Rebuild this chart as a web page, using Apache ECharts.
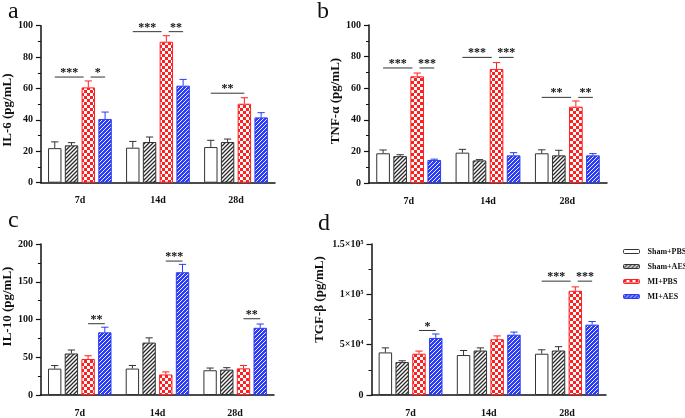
<!DOCTYPE html>
<html>
<head>
<meta charset="utf-8">
<script src="https://cdn.jsdelivr.net/npm/echarts@6/dist/echarts.min.js"></script>
<style>html,body{margin:0;padding:0;background:#fff}#c{width:685px;height:418px}</style>
</head>
<body>
<div id="c"></div>
<script>
// ---------------- DATA ----------------
const categories = ['7d', '14d', '28d'];
const groups = ['Sham+PBS', 'Sham+AES', 'MI+PBS', 'MI+AES'];

// IL-6 (pg/mL)
const il6Mean = [[22, 22.3, 22.7], [23.8, 25.9, 25.9], [60.7, 89.8, 50.3], [40.6, 61.8, 41.6]];
const il6Err  = [[4, 4, 4.3], [1.7, 3.2, 1.9], [4.1, 3.8, 3.8], [4.4, 4, 3]];
// TNF-a (pg/mL)
const tnfMean = [[18.8, 19.2, 18.8], [17, 14.3, 17.5], [67.5, 72.2, 48.3], [14.6, 17.5, 17.5]];
const tnfErr  = [[2.1, 2.1, 2.2], [0.9, 0.5, 3.2], [2.1, 4, 3.6], [0.5, 1.7, 1.1]];
// IL-10 (pg/mL)
const il10Mean = [[34.9, 35, 32.8], [55, 69.4, 33.6], [47.7, 27.2, 35.3], [83, 162.6, 89]];
const il10Err  = [[4.1, 4.1, 2.9], [4.6, 6.3, 2.6], [4.3, 3.4, 3.7], [6.8, 10.4, 5]];
// TGF-b (pg/mL)
const tgfMean = [[42300, 39700, 41000], [32700, 44200, 44200], [41000, 55400, 103500], [56700, 59900, 69900]];
const tgfErr  = [[4500, 4500, 3900], [1300, 2600, 3800], [2600, 3300, 3900], [3900, 2600, 3100]];

// significance: [category, fromGroup, toGroup, yValue, stars]
const il6Sig  = [[0, 0, 2, 67.3, '***'], [0, 2, 3, 67.3, '*'], [1, 0, 2, 96.2, '***'], [1, 2, 3, 96.2, '**'], [2, 0, 2, 57, '**']];
const tnfSig  = [[0, 0, 2, 72.8, '***'], [0, 2, 3, 72.8, '***'], [1, 0, 2, 79.5, '***'], [1, 2, 3, 79.5, '***'], [2, 0, 2, 54.2, '**'], [2, 2, 3, 54.2, '**']];
const il10Sig = [[0, 2, 3, 94.4, '**'], [1, 2, 3, 177.4, '***'], [2, 2, 3, 101, '**']];
const tgfSig  = [[0, 2, 3, 64100, '*'], [2, 0, 2, 113100, '***'], [2, 2, 3, 113100, '***']];

// axis ticks
const il6Ticks = [0, 100, 20];
const tnfTicks = [0, 100, 20];
const il10Ticks = [0, 200, 50];
const tgfTicks = [0, 150000, 50000];
const tgfTickLabels = {0: '0', 50000: '5×10⁴', 100000: '1×10⁵', 150000: '1.5×10⁵'};

const panelLetters = ['a', 'b', 'c', 'd'];
const yTitles = ['IL-6 (pg/mL)', 'TNF-α (pg/mL)', 'IL-10 (pg/mL)', 'TGF-β (pg/mL)'];

// ---------------- PATTERNS ----------------
function tile(w, h, draw) {
  const c = document.createElement('canvas');
  c.width = w; c.height = h;
  const g = c.getContext('2d');
  draw(g);
  return { image: c, repeat: 'repeat' };
}
const RED = '#ff1f1f', BLUE = '#2b3cf2', DARK = '#333333';
const fills = [
  '#ffffff',
  tile(4, 4, g => {
    g.fillStyle = '#fff'; g.fillRect(0, 0, 4, 4);
    g.strokeStyle = '#2a2a2a'; g.lineWidth = 1.3;
    g.beginPath();
    g.moveTo(-1, 5); g.lineTo(5, -1);
    g.moveTo(-1, 1); g.lineTo(1, -1);
    g.moveTo(3, 5); g.lineTo(5, 3);
    g.stroke();
  }),
  tile(6, 6, g => {
    g.fillStyle = '#fff'; g.fillRect(0, 0, 6, 6);
    g.fillStyle = RED; g.fillRect(0, 0, 3, 3); g.fillRect(3, 3, 3, 3);
  }),
  tile(4, 4, g => {
    g.fillStyle = BLUE; g.fillRect(0, 0, 4, 4);
    g.fillStyle = '#eef0ff';
    g.fillRect(1, 0, 1, 1); g.fillRect(0, 1, 1, 1);
    g.fillRect(3, 2, 1, 1); g.fillRect(2, 3, 1, 1);
  })
];
const borders = [DARK, DARK, RED, BLUE];

// ---------------- LAYOUT ----------------
const grids = [
  { left: 38, top: 25.7, width: 237, height: 157 },
  { left: 369, top: 25, width: 238, height: 158 },
  { left: 38, top: 244, width: 236, height: 156.7 },
  { left: 371.5, top: 244, width: 234.5, height: 156 }
];
const panels = [
  { mean: il6Mean, err: il6Err, sig: il6Sig, ticks: il6Ticks },
  { mean: tnfMean, err: tnfErr, sig: tnfSig, ticks: tnfTicks },
  { mean: il10Mean, err: il10Err, sig: il10Sig, ticks: il10Ticks },
  { mean: tgfMean, err: tgfErr, sig: tgfSig, ticks: tgfTicks }
];
const nameGaps = [24, 22, 26, 45];
const namePads = [[0, 12, 0, 0], [0, 0, 0, 6], [0, 0, 0, 26], [0, 0, 0, 40]];
const FONT = '"Liberation Serif", "Times New Roman", serif';
const BAR_FRAC = 0.172, GAP = 0.25;

function barX(api, cat, j) {
  const c = api.coord([cat, 0]);
  const band = api.size([1, 0])[0];
  const bw = band * BAR_FRAC;
  return { x: c[0] + (j - 1.5) * bw * (1 + GAP), bw: bw, band: band };
}

const xAxis = [], yAxis = [], series = [];
panels.forEach((p, k) => {
  xAxis.push({
    type: 'category', gridIndex: k, data: categories,
    axisLine: { lineStyle: { color: '#111', width: 1.5 } },
    axisTick: { alignWithLabel: true, length: 6, lineStyle: { color: '#111', width: 1.5 } },
    axisLabel: { fontFamily: FONT, fontWeight: 'bold', fontSize: 10, color: '#111', margin: 13 }
  });
  yAxis.push({
    type: 'value', gridIndex: k, min: p.ticks[0], max: p.ticks[1], interval: p.ticks[2],
    name: yTitles[k], nameLocation: 'middle', nameGap: nameGaps[k], nameRotate: 90,
    nameTextStyle: { fontFamily: FONT, fontWeight: 'bold', fontSize: 13, color: '#111', padding: namePads[k] },
    axisLine: { show: true, lineStyle: { color: '#111', width: 1.5 } },
    axisTick: { show: true, length: 5, lineStyle: { color: '#111', width: 1.2 } },
    minorTick: { show: true, splitNumber: 2, length: 3, lineStyle: { color: '#111', width: 1 } },
    splitLine: { show: false },
    axisLabel: {
      fontFamily: FONT, fontWeight: 'bold', fontSize: 10, color: '#111', margin: 8,
      formatter: k === 3 ? (v => tgfTickLabels[v] !== undefined ? tgfTickLabels[v] : '') : null
    }
  });
  groups.forEach((gname, j) => {
    series.push({
      type: 'bar', name: gname, xAxisIndex: k, yAxisIndex: k,
      barWidth: (BAR_FRAC * 100) + '%', barGap: (GAP * 100) + '%',
      data: p.mean[j],
      itemStyle: { color: fills[j], borderColor: borders[j], borderWidth: 1 },
      emphasis: { disabled: true }, animation: false
    });
  });
  // error bars
  const ebData = [];
  groups.forEach((g, j) => categories.forEach((c, i) => ebData.push([i, p.mean[j][i], p.err[j][i], j])));
  series.push({
    type: 'custom', xAxisIndex: k, yAxisIndex: k, z: 5, animation: false, silent: true,
    data: ebData,
    renderItem: (params, api) => {
      const cat = api.value(0), v = api.value(1), e = api.value(2), j = api.value(3);
      const b = barX(api, cat, j);
      const y0 = api.coord([cat, v])[1];
      const y1 = api.coord([cat, v + e])[1];
      const st = { stroke: borders[j], lineWidth: 1 };
      return { type: 'group', children: [
        { type: 'line', shape: { x1: b.x, y1: y0, x2: b.x, y2: y1 }, style: st },
        { type: 'line', shape: { x1: b.x - b.bw * 0.27, y1: y1, x2: b.x + b.bw * 0.27, y2: y1 }, style: st }
      ] };
    }
  });
  // significance lines
  series.push({
    type: 'custom', xAxisIndex: k, yAxisIndex: k, z: 6, animation: false, silent: true,
    data: p.sig.map(s => [s[0], s[3]]),
    renderItem: (params, api) => {
      const s = p.sig[params.dataIndex];
      const cat = s[0];
      const a = barX(api, cat, s[1]), b = barX(api, cat, s[2]);
      let x1 = a.x, x2 = b.x;
      const followed = p.sig.some(o => o !== s && o[0] === cat && o[3] === s[3] && o[1] === s[2]);
      const preceded = p.sig.some(o => o !== s && o[0] === cat && o[3] === s[3] && o[2] === s[1]);
      if (followed) x2 -= a.band * 0.06;
      if (preceded) x1 += a.band * 0.03;
      const y = api.coord([cat, s[3]])[1];
      return { type: 'group', children: [
        { type: 'line', shape: { x1: x1, y1: y, x2: x2, y2: y }, style: { stroke: '#333', lineWidth: 1 } },
        { type: 'text', x: (x1 + x2) / 2, y: y - 4,
          style: { text: s[4], fontFamily: FONT, fontWeight: 'bold', fontSize: 12, fill: '#111',
                   textAlign: 'center', textVerticalAlign: 'middle' } }
      ] };
    }
  });
});

const letterPos = [[8, 0], [317, 0], [8, 209], [318, 212]];
const graphic = panelLetters.map((t, i) => ({
  type: 'text', left: letterPos[i][0], top: letterPos[i][1],
  style: { text: t, fontFamily: FONT, fontSize: 24, fill: '#111' }
}));

const chart = echarts.init(document.getElementById('c'), null, { renderer: 'canvas' });
chart.setOption({
  animation: false,
  grid: grids,
  xAxis: xAxis,
  yAxis: yAxis,
  series: series,
  graphic: graphic,
  legend: {
    data: groups, orient: 'vertical', left: 623, top: 246, width: 120, padding: 0,
    itemWidth: 16, itemHeight: 4, itemGap: 4,
    selectedMode: false,
    itemStyle: { borderWidth: 1 },
    textStyle: { fontFamily: FONT, fontWeight: 'bold', fontSize: 8, color: '#111', lineHeight: 11,
                 padding: [0, 0, 0, 3], overflow: 'none' }
  }
});
</script>
</body>
</html>
